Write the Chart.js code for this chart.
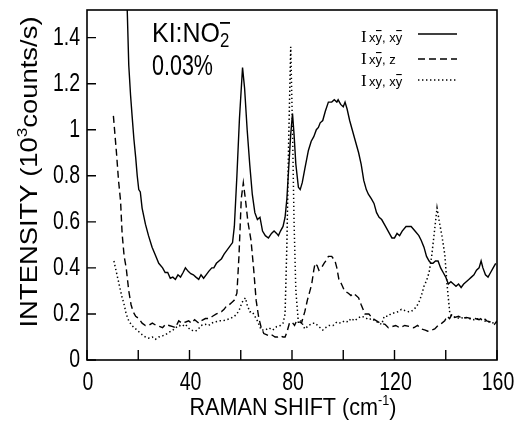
<!DOCTYPE html>
<html>
<head>
<meta charset="utf-8">
<script src="https://cdn.jsdelivr.net/npm/chart.js@4.4.1/dist/chart.umd.min.js"></script>
<style>
html,body{margin:0;padding:0;background:#fff;}
#wrap{width:514px;height:427px;}
</style>
</head>
<body>
<div id="wrap"><canvas id="c" width="514" height="427"></canvas></div>
<script>
// ---- data ----
const seriesNames = ['xy\u0305,xy\u0305', 'xy\u0305,z', 'xy,xy\u0305'];

const shiftA = [15.5,16.3,17.0,17.6,18.3,19.0,19.6,20.2,20.8,21.5,22.8,24.0,25.4,26.5,28.0,29.5,30.5,31.5,32.5,33.5,34.5,35.5,36.5,37.5,38.4,39.5,40.5,41.5,42.5,43.6,44.5,45.5,46.5,47.5,48.7,49.5,50.5,51.5,52.5,53.5,54.5,55.5,56.8,57.5,58.5,59.5,60.7,61.5,62.5,63.5,64.5,65.5,66.5,67.5,68.5,69.6,70.8,72.0,73.0,74.0,74.7,75.5,76.5,77.3,78.0,78.8,79.5,80.2,80.8,81.5,82.5,83.2,84.0,85.0,86.4,87.5,88.5,89.5,90.3,91.0,92.0,93.0,94.2,95.5,96.5,97.5,98.0,99.0,100.0,100.7,101.5,102.5,103.5,104.5,106.0,107.0,108.0,109.0,109.8,111.0,112.0,113.0,114.0,115.0,116.5,118.0,119.0,120.0,121.0,122.0,123.0,124.5,126.5,128.0,129.5,130.4,131.5,132.5,133.5,134.3,135.0,136.0,137.0,138.0,139.0,140.0,141.0,142.0,143.0,144.0,145.0,146.0,147.0,148.0,149.0,150.0,151.0,152.0,153.0,153.8,154.5,155.5,156.5,157.5,158.5,159.5];
const intensA = [1.60,1.28,1.15,1.06,0.96,0.88,0.80,0.74,0.73,0.66,0.59,0.54,0.49,0.46,0.42,0.40,0.38,0.38,0.355,0.36,0.35,0.37,0.36,0.38,0.40,0.385,0.375,0.37,0.36,0.35,0.37,0.355,0.37,0.385,0.40,0.40,0.42,0.43,0.44,0.46,0.475,0.49,0.51,0.58,0.80,1.05,1.27,1.18,1.00,0.85,0.72,0.64,0.61,0.62,0.56,0.54,0.53,0.55,0.56,0.55,0.54,0.56,0.58,0.62,0.70,0.85,0.98,1.07,0.98,0.85,0.75,0.74,0.77,0.83,0.91,0.95,0.97,1.00,1.01,1.03,1.04,1.08,1.12,1.12,1.13,1.12,1.13,1.11,1.10,1.12,1.09,1.04,1.00,0.96,0.90,0.85,0.78,0.74,0.72,0.70,0.68,0.64,0.62,0.61,0.58,0.55,0.53,0.53,0.55,0.54,0.56,0.58,0.58,0.56,0.54,0.52,0.49,0.45,0.43,0.42,0.42,0.43,0.43,0.40,0.38,0.36,0.33,0.34,0.33,0.32,0.33,0.315,0.33,0.34,0.35,0.36,0.37,0.39,0.40,0.43,0.40,0.37,0.36,0.38,0.40,0.42];

const shiftB = [10.3,11.5,12.3,13.1,13.7,14.5,15.3,16.3,17.2,18.0,19.0,20.2,21.5,22.8,24.0,25.5,27.0,28.5,29.5,30.6,32.0,33.5,34.5,35.8,37.0,38.5,39.7,40.8,42.0,43.6,44.5,46.2,47.5,49.0,50.5,51.4,52.5,53.5,54.5,55.5,56.5,57.5,58.5,59.3,60.2,61.0,61.8,62.8,64.0,65.0,66.0,67.0,68.0,69.0,70.0,71.0,72.0,73.4,74.5,75.5,76.5,77.3,78.0,79.0,80.0,81.0,81.8,83.0,83.7,85.0,86.0,87.0,87.7,88.5,89.0,89.8,90.5,91.5,92.5,93.2,94.2,95.5,96.8,97.5,98.3,99.3,100.5,102.0,103.0,104.0,105.0,106.0,107.0,108.5,110.0,111.5,113.0,114.5,116.3,117.6,119.0,120.5,122.0,124.0,126.0,127.5,129.0,130.5,132.0,133.0,134.5,135.7,137.0,138.5,139.6,140.5,141.5,142.5,143.5,145.0,146.5,148.0,150.0,151.5,153.0,154.5,156.0,157.5,159.0,160.0];
const intensB = [1.06,0.90,0.78,0.69,0.55,0.45,0.40,0.30,0.24,0.21,0.19,0.18,0.16,0.15,0.15,0.16,0.15,0.145,0.14,0.155,0.15,0.145,0.14,0.17,0.16,0.165,0.17,0.16,0.175,0.16,0.17,0.18,0.18,0.19,0.20,0.205,0.21,0.22,0.235,0.24,0.25,0.26,0.29,0.45,0.70,0.77,0.70,0.60,0.52,0.40,0.26,0.185,0.14,0.115,0.11,0.105,0.11,0.10,0.10,0.105,0.10,0.10,0.12,0.16,0.165,0.15,0.17,0.165,0.16,0.21,0.26,0.30,0.33,0.39,0.42,0.41,0.39,0.40,0.42,0.43,0.45,0.45,0.43,0.40,0.35,0.33,0.30,0.29,0.28,0.29,0.28,0.27,0.24,0.20,0.20,0.18,0.17,0.16,0.155,0.14,0.145,0.15,0.14,0.15,0.145,0.14,0.15,0.135,0.13,0.125,0.13,0.135,0.15,0.16,0.17,0.19,0.18,0.20,0.185,0.19,0.18,0.185,0.18,0.18,0.175,0.185,0.17,0.165,0.155,0.17];

const shiftC = [10.5,11.5,12.5,13.5,14.4,15.3,16.3,17.5,19.0,20.5,21.5,22.8,24.0,25.5,26.7,28.0,29.5,30.6,32.0,33.5,34.5,36.0,37.0,38.4,39.5,40.5,42.3,43.5,44.5,46.2,47.5,48.5,50.0,51.5,53.0,54.5,56.0,57.5,58.5,59.5,60.5,61.8,62.5,63.5,64.5,65.5,66.5,68.0,69.5,71.0,72.5,74.0,75.5,76.5,77.3,78.0,78.7,79.5,80.2,80.8,81.5,82.5,83.5,85.0,86.5,88.0,89.0,90.5,92.0,93.0,94.5,96.0,97.5,99.0,100.5,102.0,103.0,104.5,105.5,107.0,108.5,110.0,111.0,112.5,114.0,115.0,116.0,117.5,118.5,120.0,121.5,122.7,124.0,125.5,126.5,127.5,128.5,129.5,130.5,131.5,132.5,133.5,134.5,135.5,136.6,137.5,138.5,139.6,140.5,141.6,142.5,144.0,145.5,147.0,149.0,151.0,153.0,155.0,157.0,159.0,160.0];
const intensC = [0.43,0.38,0.33,0.28,0.245,0.20,0.17,0.15,0.135,0.12,0.11,0.10,0.095,0.10,0.09,0.10,0.105,0.11,0.12,0.13,0.14,0.15,0.145,0.155,0.14,0.13,0.125,0.135,0.15,0.155,0.15,0.16,0.165,0.17,0.17,0.175,0.18,0.19,0.20,0.22,0.25,0.27,0.24,0.21,0.21,0.19,0.17,0.13,0.13,0.14,0.13,0.145,0.15,0.16,0.20,0.50,0.95,1.36,1.00,0.60,0.30,0.16,0.17,0.135,0.15,0.16,0.16,0.145,0.13,0.14,0.15,0.15,0.165,0.16,0.17,0.165,0.18,0.17,0.18,0.19,0.185,0.175,0.18,0.17,0.16,0.155,0.19,0.19,0.20,0.205,0.21,0.22,0.215,0.21,0.21,0.22,0.23,0.25,0.28,0.32,0.345,0.38,0.45,0.55,0.66,0.60,0.54,0.46,0.33,0.20,0.19,0.185,0.18,0.185,0.18,0.175,0.18,0.17,0.165,0.16,0.165];

const xTickValues = [0,20,40,60,80,100,120,140,160];
const xTickLabels = ['0','','40','','80','','120','','160'];
const yTickValues = [0,0.2,0.4,0.6,0.8,1.0,1.2,1.4];
const yTickLabels = ['0','0.2','0.4','0.6','0.8','1','1.2','1.4'];
const xTitle = ['RAMAN SHIFT (cm', '-1', ')'];
const yTitle = ['INTENSITY (10', '3', 'counts/s)'];

// ---- build ----
const FONT = "'Liberation Sans','DejaVu Sans',sans-serif";
function pts(xs, ys){ return xs.map((x,i)=>({x:x, y:ys[i]})); }

// draw a run of segments [{t,size,dy}] starting at local 0, scaled horizontally
function runWidth(ctx, segs){
  let w = 0;
  segs.forEach(s=>{ ctx.font = s.size+'px '+FONT; w += ctx.measureText(s.t).width; });
  return w;
}
function drawRun(ctx, segs, x, y, opt){
  const nat = runWidth(ctx, segs);
  const sx = opt.width ? opt.width/nat : (opt.sx || 1);
  const tot = nat*sx;
  ctx.save();
  ctx.translate(x, y);
  if (opt.rot) ctx.rotate(opt.rot);
  let start = opt.align==='center' ? -tot/2 : opt.align==='right' ? -tot : 0;
  ctx.translate(start, 0);
  ctx.scale(sx, 1);
  ctx.textAlign = 'left'; ctx.textBaseline = 'alphabetic';
  let cx = 0;
  segs.forEach(s=>{
    ctx.font = s.size+'px '+FONT;
    ctx.fillText(s.t, cx, s.dy||0);
    cx += ctx.measureText(s.t).width;
  });
  ctx.restore();
}

const frameAndText = {
  id:'frameAndText',
  afterDraw(chart){
    const ctx = chart.ctx, a = chart.chartArea;
    const xs = chart.scales.x, ys = chart.scales.y;
    ctx.save();
    ctx.strokeStyle = '#000'; ctx.fillStyle = '#000';
    ctx.lineWidth = 1.6;
    ctx.strokeRect(a.left, a.top, a.right-a.left, a.bottom-a.top);
    // inward ticks
    ctx.lineWidth = 1.4;
    ctx.beginPath();
    xTickValues.forEach(v=>{ const px = xs.getPixelForValue(v); ctx.moveTo(px, a.bottom); ctx.lineTo(px, a.bottom-10); });
    yTickValues.forEach(v=>{ const py = ys.getPixelForValue(v); ctx.moveTo(a.left, py); ctx.lineTo(a.left+9, py); });
    ctx.stroke();

    // tick labels
    xTickValues.forEach((v,i)=>{
      if (!xTickLabels[i]) return;
      drawRun(ctx, [{t:xTickLabels[i], size:25}], xs.getPixelForValue(v)+1, a.bottom+30, {align:'center', sx:0.78});
    });
    yTickValues.forEach((v,i)=>{
      drawRun(ctx, [{t:yTickLabels[i], size:25}], a.left-7, ys.getPixelForValue(v)+7, {align:'right', sx:0.78});
    });
    // axis titles
    drawRun(ctx, [{t:xTitle[0], size:24},{t:xTitle[1], size:14, dy:-10},{t:xTitle[2], size:24}], 293, 415, {align:'center', width:207});
    drawRun(ctx, [{t:yTitle[0], size:24},{t:yTitle[1], size:15, dy:-10},{t:yTitle[2], size:24}], 37, 172, {align:'center', width:311, rot:-Math.PI/2});

    // annotation
    drawRun(ctx, [{t:'KI:NO', size:28}], 152, 42, {width:68});
    drawRun(ctx, [{t:'2', size:21}], 220, 47, {sx:0.8});
    ctx.fillRect(220, 22, 10, 1.8);
    drawRun(ctx, [{t:'0.03%', size:29}], 152, 75, {width:61});

    // legend
    const rows = [
      {base:42, line:34, parts:[['x',0],['y',1],[', ',0],['x',0],['y',1]], ds:0},
      {base:64, line:59, parts:[['x',0],['y',1],[', z',0]], ds:1},
      {base:86, line:80, parts:[['x',0],['y',0],[', ',0],['x',0],['y',1]], ds:2}
    ];
    rows.forEach(r=>{
      ctx.textAlign = 'left'; ctx.textBaseline = 'alphabetic';
      ctx.font = "17px 'Liberation Serif','DejaVu Serif',serif";
      ctx.fillText('I', 361, r.base);
      let x = 369;
      ctx.font = "13px 'Liberation Sans','DejaVu Sans',sans-serif";
      r.parts.forEach(p=>{
        const tw = ctx.measureText(p[0]).width;
        ctx.fillText(p[0], x, r.base);
        if (p[1]) ctx.fillRect(x+0.5, r.base-12, tw-1, 1.1);
        x += tw;
      });
      const d = chart.data.datasets[r.ds];
      ctx.setLineDash(d.borderDash || []);
      ctx.lineWidth = d.borderWidth;
      ctx.beginPath(); ctx.moveTo(418, r.line); ctx.lineTo(457, r.line); ctx.stroke();
    });
    ctx.restore();
  }
};

function fixY(s){ s.width = 87; s.paddingTop = 0; s.paddingBottom = 0; s.paddingLeft = 0; s.paddingRight = 0; }
function fixX(s){ s.height = 67; s.paddingLeft = 0; s.paddingRight = 0; s.paddingTop = 0; s.paddingBottom = 0; }

new Chart(document.getElementById('c'), {
  type:'line',
  data:{
    datasets:[
      {label:seriesNames[0], data:pts(shiftA,intensA), borderColor:'#000', borderWidth:1.4, pointRadius:0, tension:0, clip:0},
      {label:seriesNames[1], data:pts(shiftB,intensB), borderColor:'#000', borderWidth:1.4, borderDash:[7,4], pointRadius:0, tension:0, clip:0},
      {label:seriesNames[2], data:pts(shiftC,intensC), borderColor:'#000', borderWidth:1.5, borderDash:[1.4,2.6], pointRadius:0, tension:0, clip:0}
    ]
  },
  options:{
    responsive:false, animation:false,
    layout:{padding:{top:10,right:17,left:0,bottom:0}},
    plugins:{legend:{display:false}, tooltip:{enabled:false}},
    scales:{
      x:{type:'linear', min:0, max:160,
        afterFit: fixX,
        afterBuildTicks(s){ s.ticks = xTickValues.map(v=>({value:v})); },
        grid:{display:false, drawTicks:false},
        border:{display:false},
        ticks:{display:false}
      },
      y:{type:'linear', min:0, max:1.52,
        afterFit: fixY,
        afterBuildTicks(s){ s.ticks = yTickValues.map(v=>({value:v})); },
        grid:{display:false, drawTicks:false},
        border:{display:false},
        ticks:{display:false}
      }
    }
  },
  plugins:[frameAndText]
});
</script>
</body>
</html>
